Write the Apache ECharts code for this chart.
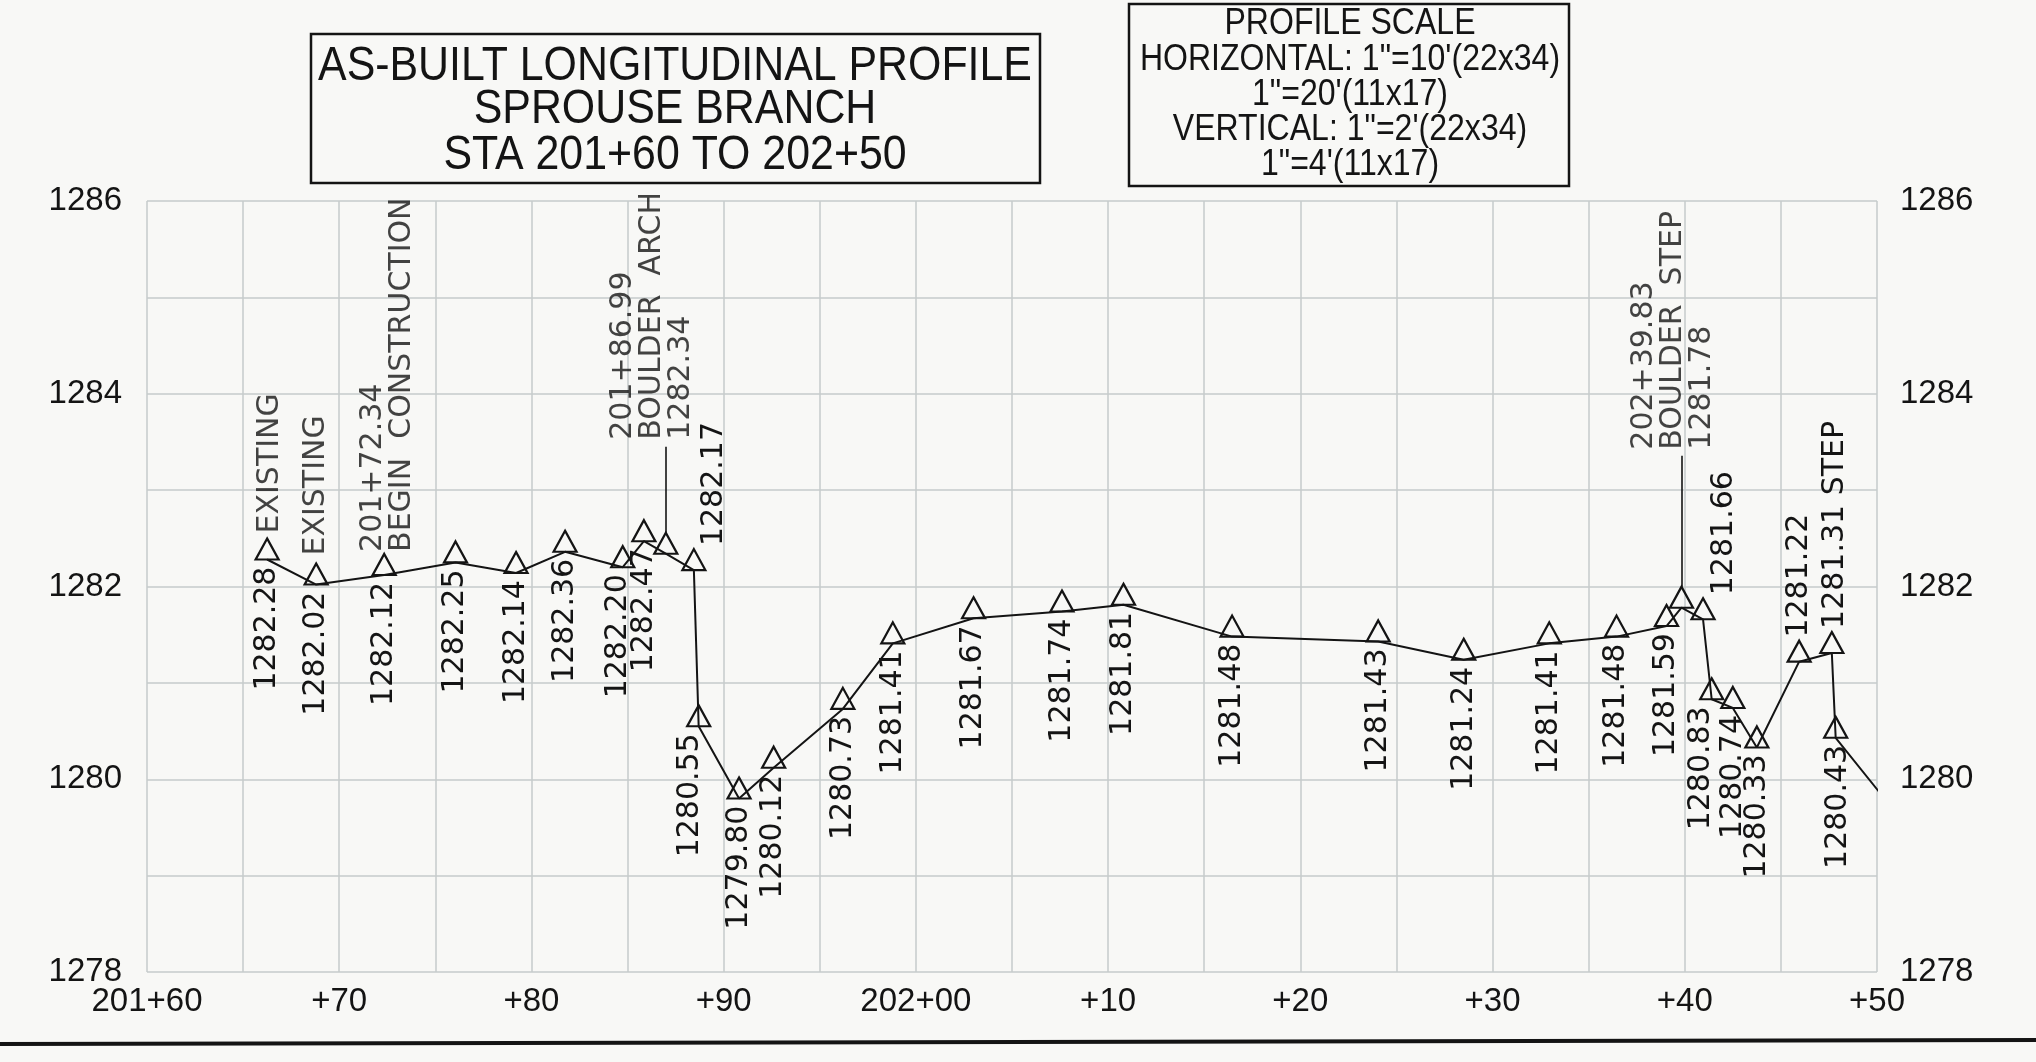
<!DOCTYPE html>
<html>
<head>
<meta charset="utf-8">
<title>As-built longitudinal profile - Sprouse Branch</title>
<script src="https://cdn.jsdelivr.net/npm/echarts@6/dist/echarts.min.js"></script>
<style>
  html, body { margin: 0; padding: 0; background: #f8f8f6; }
  #chart { width: 2036px; height: 1062px; }
</style>
</head>
<body>
<div id="chart"></div>
<script>
// stations in feet (201+60 -> 20160), surveyed thalweg elevations in feet
var stations = [20166.25, 20168.8, 20172.34, 20176.05, 20179.2, 20181.75, 20184.75, 20185.85,
    20186.99, 20188.45, 20188.7, 20190.8, 20192.6, 20196.2, 20198.8, 20203.0, 20207.6, 20210.8,
    20216.45, 20224.05, 20228.5, 20232.95, 20236.45, 20239.05, 20239.83, 20240.95, 20241.4,
    20242.5, 20243.75, 20245.95, 20247.65, 20247.85, 20252.0];
var elevations = [1282.28, 1282.02, 1282.12, 1282.25, 1282.14, 1282.36, 1282.20, 1282.47,
    1282.34, 1282.17, 1280.55, 1279.80, 1280.12, 1280.73, 1281.41, 1281.67, 1281.74, 1281.81,
    1281.48, 1281.43, 1281.24, 1281.41, 1281.48, 1281.59, 1281.78, 1281.66, 1280.83,
    1280.74, 1280.33, 1281.22, 1281.31, 1280.43, 1279.40];
// last point runs off the sheet, only the line to it is seen

// notes written next to some shots
var noteAt = [0, 1, 2, 8, 24, 30];
var noteText = ['EXISTING', 'EXISTING', '201+72.34\nBEGIN  CONSTRUCTION',
    '201+86.99\nBOULDER  ARCH', '202+39.83\nBOULDER  STEP', 'STEP'];

// tick labels
var stationTicks = [20160, 20170, 20180, 20190, 20200, 20210, 20220, 20230, 20240, 20250];
var stationTickLabels = ['201+60', '+70', '+80', '+90', '202+00', '+10', '+20', '+30', '+40', '+50'];
var elevTicks = [1278, 1280, 1282, 1284, 1286];

// ---- layout / style ----
var GRID = { left: 147, right: 159, top: 201, bottom: 90 };
var PX_FT = (1062 - GRID.top - GRID.bottom) / 8;
var TRI = [23, 21];
var INK = '#141414';
var GRIDC = '#c6cbcb';
var AXFONT = '"Liberation Sans", Arial, sans-serif';
var CADFONT = '"DejaVu Sans", Verdana, sans-serif';

var valueUp = { 9: 20, 25: 21, 29: 0, 30: 3 };      // elevation text above the shot (dx px)
var valueShift = { 6: -5, 10: -8, 26: -10, 31: 3 }; // small sideways shifts of the texts below
var noteLayout = {                                  // dist from apex, dx, leader rise px
    0: { dist: 5, dx: 3 }, 1: { dist: 8, dx: 0 }, 2: { dist: 2, dx: 4 },
    8: { dist: 93, dx: -14, rise: 110 }, 24: { dist: 137, dx: -8, rise: 155 }
};

var chart = echarts.init(document.getElementById('chart'));

function rotLabel(text, up, dist, dx) {
    return {
        show: true,
        formatter: text,
        position: up ? 'top' : 'bottom',
        distance: dist,
        rotate: 90,
        align: up ? 'left' : 'right',
        verticalAlign: 'middle',
        offset: [0, dx || 0],
        fontFamily: CADFONT,
        fontSize: 30,
        lineHeight: 29,
        color: INK
    };
}

var lineData = [];
for (var i = 0; i < stations.length; i++) {
    var item = { value: [stations[i], elevations[i]] };
    var txt = elevations[i].toFixed(2);
    if (i === stations.length - 1) {
        item.symbol = 'none';
        item.label = { show: false };
    } else if (noteLayout[i] && noteLayout[i].rise) {
        item.label = { show: false };
    } else if (valueUp[i] != null) {
        if (noteAt.indexOf(i) >= 0 && !noteLayout[i]) txt += ' ' + noteText[noteAt.indexOf(i)];
        item.label = rotLabel(txt, true, 2, valueUp[i]);
    } else {
        item.label = rotLabel(txt, false, 6, valueShift[i]);
    }
    lineData.push(item);
}

var noteData = [];
var leaders = [];
noteAt.forEach(function (idx, k) {
    var lay = noteLayout[idx];
    if (!lay) return;
    var t = noteText[k];
    if (lay.rise) {
        t += '\n' + elevations[idx].toFixed(2);
        leaders.push([
            { coord: [stations[idx], elevations[idx] + TRI[1] / PX_FT] },
            { coord: [stations[idx], elevations[idx] + (lay.rise - 3) / PX_FT] }
        ]);
    }
    noteData.push({ value: [stations[idx], elevations[idx]], label: rotLabel(t, true, lay.dist, lay.dx) });
});

function stationLabel(v) {
    var k = stationTicks.indexOf(Math.round(v));
    return k >= 0 ? stationTickLabels[k] : '';
}
function elevLabel(v) {
    return elevTicks.indexOf(Math.round(v)) >= 0 ? String(Math.round(v)) : '';
}

// condensed block text (drawing title & scale note)
function boxText(str, x, y, size, sx) {
    return {
        type: 'text', x: x, y: y, scaleX: sx,
        style: { text: str, font: size + 'px ' + AXFONT, fill: INK, textAlign: 'center', textVerticalAlign: 'middle' }
    };
}

var yAxisBase = {
    type: 'value', min: 1278, max: 1286, interval: 1,
    axisLine: { show: false }, axisTick: { show: false }
};

var option = {
    backgroundColor: '#f8f8f6',
    animation: false,
    grid: { left: GRID.left, right: GRID.right, top: GRID.top, bottom: GRID.bottom, containLabel: false },
    xAxis: {
        type: 'value', min: 20160, max: 20250, interval: 5,
        axisLine: { show: false }, axisTick: { show: false },
        axisLabel: { formatter: stationLabel, margin: 13, fontFamily: AXFONT, fontSize: 33, color: INK },
        splitLine: { show: true, lineStyle: { color: GRIDC, width: 1.5 } }
    },
    yAxis: [
        Object.assign({}, yAxisBase, {
            position: 'left',
            axisLabel: { formatter: elevLabel, margin: 25, fontFamily: AXFONT, fontSize: 33, color: INK },
            splitLine: { show: true, lineStyle: { color: GRIDC, width: 1.5 } }
        }),
        Object.assign({}, yAxisBase, {
            position: 'right',
            axisLabel: { formatter: elevLabel, margin: 23, fontFamily: AXFONT, fontSize: 33, color: INK },
            splitLine: { show: false }
        })
    ],
    series: [
        {
            name: 'profile',
            type: 'line',
            data: lineData,
            symbol: 'triangle',
            symbolSize: TRI,
            symbolOffset: [0, '-50%'],
            showAllSymbol: true,
            clip: true,
            silent: true,
            lineStyle: { color: INK, width: 2 },
            itemStyle: { color: 'rgba(0,0,0,0)', borderColor: INK, borderWidth: 2.2 },
            markLine: {
                silent: true,
                symbol: 'none',
                label: { show: false },
                lineStyle: { color: INK, width: 1.6, type: 'solid' },
                data: leaders
            },
            z: 3
        },
        {
            name: 'notes',
            type: 'scatter',
            data: noteData,
            symbol: 'triangle',
            symbolSize: TRI,
            symbolOffset: [0, '-50%'],
            silent: true,
            itemStyle: { color: 'rgba(0,0,0,0)', borderWidth: 0 },
            z: 4
        }
    ],
    graphic: [
        { type: 'rect', shape: { x: 311, y: 34, width: 729, height: 149 },
          style: { fill: 'none', stroke: INK, lineWidth: 2.5 } },
        boxText('AS-BUILT LONGITUDINAL PROFILE', 675, 66, 49, 0.875),
        boxText('SPROUSE BRANCH', 675, 109, 49, 0.875),
        boxText('STA 201+60 TO 202+50', 675, 155, 49, 0.875),

        { type: 'rect', shape: { x: 1129, y: 4, width: 440, height: 182 },
          style: { fill: 'none', stroke: INK, lineWidth: 2.5 } },
        boxText('PROFILE SCALE', 1350, 24, 36, 0.89),
        boxText('HORIZONTAL: 1"=10\'(22x34)', 1350, 60, 36, 0.89),
        boxText('1"=20\'(11x17)', 1350, 95, 36, 0.89),
        boxText('VERTICAL: 1"=2\'(22x34)', 1350, 130, 36, 0.89),
        boxText('1"=4\'(11x17)', 1350, 165, 36, 0.89),

        { type: 'line', shape: { x1: 0, y1: 1044, x2: 2036, y2: 1040 },
          style: { stroke: INK, lineWidth: 4 } }
    ]
};

chart.setOption(option);
</script>
</body>
</html>
